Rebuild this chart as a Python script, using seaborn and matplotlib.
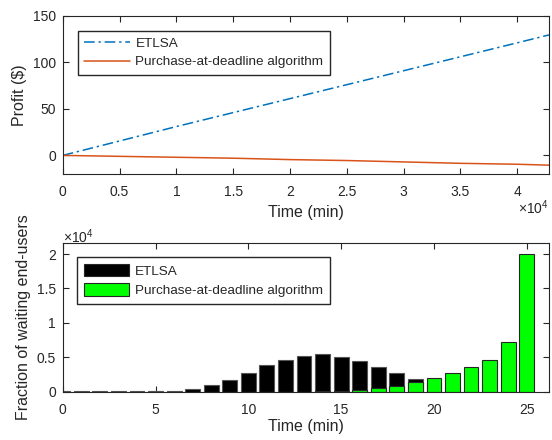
import numpy as np
import pandas as pd
import matplotlib
matplotlib.use("Agg")
import matplotlib.pyplot as plt
import seaborn as sns
from matplotlib.ticker import FuncFormatter, MultipleLocator
from matplotlib.patches import Patch
from matplotlib.lines import Line2D

# Profit over time (time in minutes)
profit_time = [0, 5000, 10000, 15000, 20000, 25000, 30000, 35000, 40000, 42800]
profit_etlsa = [0, 15.5, 31, 46, 61, 76, 91, 106, 121, 129.5]
profit_deadline = [0, -1, -2, -3, -4.5, -5.5, -7, -8.5, -9.5, -10.5]

# Waiting end-users per time slot
slots = list(range(26))
waiting_etlsa = [40, 40, 40, 40, 40, 50, 100, 300, 900, 1700, 2750, 3800, 4600,
                 5200, 5400, 5000, 4450, 3600, 2650, 1800, 1200, 700, 400, 200, 100, 50]
waiting_deadline = [0, 0, 0, 0, 0, 0, 0, 0, 0, 0, 0, 0, 0, 0, 50, 100, 250, 500,
                    850, 1400, 1900, 2700, 3500, 4600, 7200, 20000]

labels = ["ETLSA", "Purchase-at-deadline algorithm"]

sns.set_theme(style="ticks")
plt.rcParams["font.family"] = ["Liberation Sans", "DejaVu Sans"]
plt.rcParams["mathtext.default"] = "regular"
axcol = "#262626"
plt.rcParams.update({
    "axes.edgecolor": axcol,
    "axes.linewidth": 0.8,
    "xtick.color": axcol,
    "ytick.color": axcol,
    "axes.labelcolor": axcol,
    "text.color": axcol,
})

fig = plt.figure(figsize=(5.52, 4.40), dpi=100)
ax1 = fig.add_axes([0.1136, 0.6045, 0.881, 0.3595])
ax2 = fig.add_axes([0.1136, 0.1102, 0.881, 0.3375])

# --- top: profit ---
sns.lineplot(x=profit_time, y=profit_etlsa, ax=ax1, color="#0072BD",
             linewidth=1.1, dashes=False)
ax1.lines[-1].set_dashes([7, 2.5, 1.5, 2.5])
sns.lineplot(x=profit_time, y=profit_deadline, ax=ax1, color="#D95319",
             linewidth=1.1)
ax1.set_xlim(0, 42800)
ax1.set_ylim(-20, 150)
ax1.xaxis.set_major_locator(MultipleLocator(5000))
ax1.yaxis.set_major_locator(MultipleLocator(50))
ax1.xaxis.set_major_formatter(FuncFormatter(lambda v, p: f"{v / 1e4:g}"))
ax1.set_xlabel("Time (min)", fontsize=11.5, labelpad=4)
ax1.set_ylabel("Profit ($)", fontsize=11.5, labelpad=4)
ax1.text(1.0, -0.21, r"$\times10^{4}$", transform=ax1.transAxes,
         ha="right", va="center", fontsize=10)
h1 = [Line2D([], [], color="#0072BD", lw=1.1, dashes=[7, 2.5, 1.5, 2.5]),
      Line2D([], [], color="#D95319", lw=1.1)]
ax1.legend(h1, labels, loc="upper left", fontsize=9.7, frameon=True,
           fancybox=False, edgecolor=axcol, framealpha=1, handlelength=3.4,
           handletextpad=0.4, borderaxespad=1.1, borderpad=0.5, labelspacing=0.45)

# --- bottom: waiting end-users ---
df = pd.DataFrame({"slot": slots, "etlsa": waiting_etlsa, "deadline": waiting_deadline})
sns.barplot(data=df, x="slot", y="etlsa", native_scale=True, width=0.8,
            color="black", saturation=1, errorbar=None, edgecolor="#555555",
            linewidth=0.8, ax=ax2)
sns.barplot(data=df, x="slot", y="deadline", native_scale=True, width=0.8,
            color="#00FF00", saturation=1, errorbar=None, edgecolor=axcol,
            linewidth=0.8, ax=ax2)
ax2.set_xlim(0, 26.2)
ax2.set_ylim(0, 21600)
ax2.xaxis.set_major_locator(MultipleLocator(5))
ax2.yaxis.set_major_locator(MultipleLocator(5000))
ax2.xaxis.set_major_formatter(FuncFormatter(lambda v, p: f"{v:g}"))
ax2.yaxis.set_major_formatter(FuncFormatter(lambda v, p: f"{v / 1e4:g}"))
ax2.set_xlabel("Time (min)", fontsize=11.5, labelpad=2)
ax2.set_ylabel("Fraction of waiting end-users", fontsize=11.5, labelpad=4)
ax2.text(0.0, 1.045, r"$\times10^{4}$", transform=ax2.transAxes,
         ha="left", va="center", fontsize=10)
h2 = [Patch(facecolor="black", edgecolor=axcol, linewidth=0.8),
      Patch(facecolor="#00FF00", edgecolor=axcol, linewidth=0.8)]
ax2.legend(h2, labels, loc="upper left", fontsize=9.7, frameon=True,
           fancybox=False, edgecolor=axcol, framealpha=1, handlelength=3.4,
           handleheight=1.05, handletextpad=0.4, borderaxespad=1.05,
           borderpad=0.5, labelspacing=0.4)

for ax in (ax1, ax2):
    for s in ax.spines.values():
        s.set_visible(True)
    ax.tick_params(direction="in", top=True, right=True, length=4,
                   width=0.8, labelsize=10, pad=8)
    ax.tick_params(axis="y", pad=5)

fig.savefig("out.png", dpi=100)
